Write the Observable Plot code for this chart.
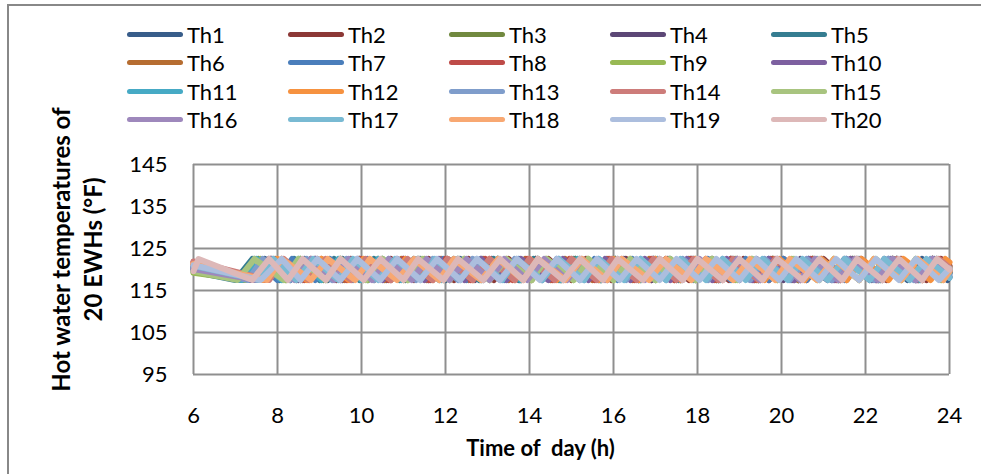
<!DOCTYPE html>
<html>
<head>
<meta charset="utf-8">
<script src="https://cdn.jsdelivr.net/npm/d3@7"></script>
<script src="https://cdn.jsdelivr.net/npm/@observablehq/plot@0.6"></script>
<style>
  html, body { margin: 0; padding: 0; background: #fff; }
  #chart { position: relative; width: 981px; height: 474px; overflow: hidden; font-family: Lato, "Open Sans", sans-serif; }
  #plot { position: absolute; left: 0; top: 0; }
  #edge-top { position: absolute; left: 8px; top: 4px; width: 973px; height: 2px; background: #888; }
  #edge-left { position: absolute; left: 7px; top: 4px; width: 2px; height: 470px; background: #888; }
  #legend { position: absolute; left: 127px; top: 20px; display: grid; grid-template-columns: repeat(5, 161px); grid-auto-rows: 28.5px; }
  .item { display: flex; align-items: center; font-size: 22px; color: #000; }
  .swatch { width: 56px; height: 5px; border-radius: 3px; margin-right: 4px; flex: none; }
</style>
</head>
<body>
<div id="chart">
  <div id="plot"></div>
  <div id="edge-top"></div>
  <div id="edge-left"></div>
  <div id="legend"></div>
</div>
<script>
// Water heaters and their line colours
const series = ["Th1","Th2","Th3","Th4","Th5","Th6","Th7","Th8","Th9","Th10",
                "Th11","Th12","Th13","Th14","Th15","Th16","Th17","Th18","Th19","Th20"];
const colors = ["#385D8A","#8C3836","#71893F","#5C4776","#357D91","#B66D31",
                "#4A7EBB","#BE4B48","#98B954","#7D60A0","#46AAC5","#F69240",
                "#7F9DCB","#CD7C7A","#A8C47F","#9E88BC","#79BAD3","#F8A872",
                "#ACBEDE","#DDB8B8"];

// Thermostat deadband (°F)
const lowTemp = 117.5;
const highTemp = 122.5;

// Temperature at 6 h and at 24 h
const startTemp = [120.6,121.2,119.8,120.2,119.5,121.0,120.0,121.8,119.2,120.8,
                   119.9,121.5,120.4,121.9,119.6,120.1,120.9,121.3,121.0,119.6];
const endTemp   = [118.2,120.8,119.2,119.5,119.2,120.0,119.5,119.8,120.4,119.5,
                   120.0,121.7,118.8,120.4,119.6,119.8,118.0,119.6,120.2,120.0];
// true when the first turning point is a peak (heater on at 6 h)
const firstHigh = [false,false,false,false,false,false,false,false,false,false,
                   false,false,false,false,false,false,false,false,false,true];

// Turning-point times (h), alternating between the deadband limits
const th1  = [7.35,7.7,8.3,8.65,9.2,9.55,10.15,10.5,11.05,11.4,12.0,12.35,12.9,13.25,13.8,14.2,14.75,15.1,15.7,16.05,16.6,16.95,17.5,17.85,18.45,18.8,19.35,19.7,20.25,20.65,21.2,21.55,22.1,22.45,23.0,23.35,23.95];
const th2  = [7.5,7.85,8.45,8.8,9.4,9.75,10.3,10.7,11.25,11.6,12.2,12.55,13.15,13.5,14.05,14.45,15.0,15.35,15.95,16.3,16.9,17.25,17.8,18.2,18.75,19.1,19.7,20.05,20.6,21.0,21.55,21.9,22.5,22.85,23.45,23.8];
const th3  = [7.2,7.55,8.2,8.55,9.1,9.5,10.05,10.4,11.0,11.35,11.95,12.3,12.85,13.25,13.8,14.15,14.75,15.1,15.7,16.05,16.65,17.0,17.6,17.95,18.5,18.9,19.45,19.8,20.4,20.75,21.35,21.7,22.3,22.65,23.2,23.6];
const th4  = [7.4,7.8,8.5,8.9,9.55,9.95,10.6,11.0,11.65,12.05,12.7,13.1,13.75,14.15,14.8,15.2,15.85,16.25,16.9,17.3,17.95,18.35,19.0,19.4,20.05,20.45,21.1,21.5,22.15,22.55,23.2,23.6];
const th5  = [7.0,7.4,8.05,8.4,9.0,9.35,9.95,10.3,10.9,11.25,11.85,12.2,12.8,13.15,13.75,14.1,14.7,15.05,15.65,16.0,16.6,16.95,17.55,17.9,18.5,18.85,19.45,19.8,20.4,20.75,21.35,21.7,22.3,22.65,23.25,23.6];
const th6  = [7.6,7.95,8.6,8.95,9.6,9.95,10.55,10.95,11.55,11.9,12.55,12.9,13.5,13.9,14.5,14.85,15.5,15.85,16.45,16.85,17.45,17.8,18.45,18.8,19.4,19.8,20.4,20.75,21.4,21.75,22.35,22.75,23.35,23.7];
const th7  = [7.1,7.45,8.0,8.35,8.9,9.25,9.8,10.15,10.7,11.05,11.6,11.95,12.5,12.85,13.4,13.75,14.3,14.65,15.2,15.55,16.1,16.45,17.0,17.35,17.9,18.25,18.8,19.15,19.7,20.05,20.6,20.95,21.5,21.85,22.4,22.75,23.3,23.65];
const th8  = [7.7,8.1,8.65,9.05,9.65,10.0,10.65,11.0,11.6,12.0,12.6,12.95,13.6,13.95,14.55,14.95,15.55,15.9,16.5,16.9,17.45,17.85,18.4,18.8,19.35,19.75,20.3,20.7,21.3,21.65,22.25,22.65,23.25,23.6];
const th9  = [7.25,7.6,8.2,8.55,9.15,9.5,10.15,10.5,11.1,11.5,12.1,12.45,13.05,13.45,14.05,14.4,15.05,15.4,16.0,16.4,17.0,17.35,17.95,18.35,18.9,19.3,19.9,20.25,20.85,21.25,21.85,22.2,22.85,23.2,23.8];
const th10 = [7.45,7.85,8.55,8.9,9.5,9.9,10.5,10.85,11.5,11.85,12.45,12.85,13.45,13.8,14.45,14.8,15.4,15.8,16.4,16.75,17.35,17.75,18.35,18.7,19.3,19.7,20.3,20.65,21.25,21.65,22.25,22.6,23.2,23.6];
const th11 = [7.15,7.5,8.1,8.5,9.05,9.45,10.0,10.4,10.95,11.35,11.9,12.3,12.85,13.25,13.8,14.2,14.75,15.15,15.7,16.1,16.65,17.05,17.6,18.0,18.55,18.95,19.5,19.9,20.45,20.85,21.4,21.8,22.35,22.75,23.3,23.7];
const th12 = [7.65,8.0,8.7,9.05,9.7,10.05,10.7,11.05,11.7,12.05,12.65,13.05,13.65,14.0,14.65,15.0,15.65,16.0,16.6,17.0,17.6,17.95,18.6,18.95,19.6,19.95,20.55,20.95,21.55,21.9,22.55,22.9,23.55,23.9];
const th13 = [7.3,7.65,8.3,8.7,9.3,9.65,10.3,10.65,11.3,11.7,12.3,12.65,13.3,13.65,14.3,14.7,15.3,15.65,16.3,16.65,17.25,17.65,18.25,18.6,19.25,19.6,20.2,20.6,21.2,21.55,22.2,22.55,23.15,23.55];
const th14 = [7.8,8.15,8.75,9.15,9.75,10.1,10.7,11.1,11.7,12.05,12.65,13.05,13.65,14.0,14.6,15.0,15.6,15.95,16.55,16.95,17.5,17.9,18.5,18.85,19.45,19.85,20.45,20.8,21.4,21.8,22.4,22.75,23.35,23.75];
const th15 = [7.05,7.45,8.15,8.5,9.15,9.5,10.1,10.5,11.1,11.45,12.1,12.45,13.05,13.45,14.05,14.4,15.05,15.4,16.0,16.4,17.0,17.35,17.95,18.35,18.95,19.3,19.9,20.3,20.9,21.25,21.85,22.25,22.85,23.2,23.85];
const th16 = [7.5,7.9,8.4,8.8,9.35,9.7,10.25,10.65,11.2,11.55,12.1,12.5,13.05,13.4,13.95,14.35,14.9,15.25,15.8,16.2,16.75,17.1,17.65,18.05,18.6,18.95,19.5,19.9,20.45,20.8,21.35,21.75,22.3,22.65,23.2,23.6];
const th17 = [7.55,7.9,8.45,8.85,9.45,9.8,10.4,10.8,11.4,11.75,12.35,12.75,13.35,13.7,14.3,14.7,15.3,15.65,16.25,16.65,17.25,17.6,18.2,18.6,19.15,19.55,20.15,20.5,21.1,21.5,22.1,22.45,23.05,23.45];
const th18 = [7.75,8.1,8.8,9.2,9.85,10.2,10.85,11.25,11.85,12.2,12.85,13.25,13.85,14.2,14.85,15.25,15.85,16.2,16.85,17.25,17.85,18.2,18.85,19.25,19.85,20.2,20.85,21.25,21.85,22.2,22.85,23.25,23.85];
const th19 = [7.6,8.1,8.55,8.95,9.5,9.9,10.45,10.85,11.4,11.8,12.35,12.75,13.3,13.7,14.25,14.65,15.2,15.6,16.15,16.55,17.1,17.5,18.05,18.45,19.0,19.4,19.95,20.35,20.9,21.3,21.85,22.25,22.8,23.2,23.75];
const th20 = [6.12,7.4,7.8,8.25,8.6,9.15,9.5,10.05,10.45,11.0,11.35,11.95,12.3,12.9,13.3,13.85,14.2,14.8,15.2,15.75,16.1,16.7,17.1,17.65,18.0,18.6,19.0,19.55,19.9,20.5,20.9,21.45,21.8,22.4,22.8,23.35,23.7];
const turnTimes = [th1,th2,th3,th4,th5,th6,th7,th8,th9,th10,th11,th12,th13,th14,th15,th16,th17,th18,th19,th20];

// Axis ticks
const xTicks = [6, 8, 10, 12, 14, 16, 18, 20, 22, 24];
const yTicks = [95, 105, 115, 125, 135, 145];

// Long-format rows for the line mark
const rows = [];
series.forEach((name, i) => {
  rows.push({series: name, t: xTicks[0], temp: startTemp[i]});
  turnTimes[i].forEach((t, j) => {
    const high = (j % 2 === 0) === firstHigh[i];
    rows.push({series: name, t, temp: high ? highTemp : lowTemp});
  });
  rows.push({series: name, t: xTicks[xTicks.length - 1], temp: endTemp[i]});
});

// Legend: five columns of swatch + name
const legend = document.getElementById("legend");
series.forEach((name, i) => {
  const item = document.createElement("div");
  item.className = "item";
  const sw = document.createElement("span");
  sw.className = "swatch";
  sw.style.background = colors[i];
  item.appendChild(sw);
  item.appendChild(document.createTextNode(name));
  legend.appendChild(item);
});

const gridColor = "#8f8f8f";

const chart = Plot.plot({
  width: 981,
  height: 474,
  marginLeft: 193,
  marginRight: 32,
  marginTop: 164,
  marginBottom: 100,
  style: {fontFamily: "Lato, 'Open Sans', sans-serif", fontSize: "22px", color: "#000", background: "transparent"},
  x: {domain: [6, 24], ticks: xTicks, label: null},
  y: {domain: [95, 145], ticks: yTicks, label: null},
  color: {domain: series, range: colors},
  marks: [
    Plot.gridX(xTicks, {stroke: gridColor, strokeOpacity: 1, strokeWidth: 2}),
    Plot.gridY(yTicks, {stroke: gridColor, strokeOpacity: 1, strokeWidth: 2}),
    Plot.axisX(xTicks, {tickSize: 0, tickPadding: 33, fontSize: 22, label: null}),
    Plot.axisY(yTicks, {tickSize: 0, tickPadding: 26, fontSize: 22, label: null}),
    Plot.line(rows, {
      x: "t", y: "temp", z: "series", stroke: "series",
      strokeWidth: 6, strokeLinejoin: "round", strokeLinecap: "round"
    }),
    Plot.text(["Time of  day (h)"], {
      frameAnchor: "bottom", lineAnchor: "middle", dx: -31, dy: 74,
      fontSize: 22, fontWeight: "bold", fill: "#000"
    }),
    Plot.text(["Hot water temperatures of\n20 EWHs (°F)"], {
      frameAnchor: "left", textAnchor: "middle", lineAnchor: "middle",
      dx: -118, dy: -20, rotate: -90, lineHeight: 1.35,
      fontSize: 24, fontWeight: "bold", fill: "#000"
    })
  ]
});
document.getElementById("plot").appendChild(chart);
</script>
</body>
</html>
